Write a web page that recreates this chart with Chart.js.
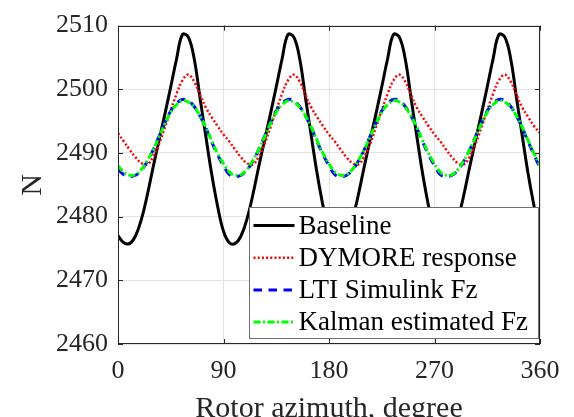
<!DOCTYPE html>
<html>
<head>
<meta charset="utf-8">
<script src="https://cdn.jsdelivr.net/npm/chart.js@4.4.0/dist/chart.umd.min.js"></script>
<style>
html, body { margin: 0; padding: 0; background: #fff; }
</style>
</head>
<body>
<canvas id="forceChart" width="574" height="417"></canvas>
<script>
// Rotor azimuth samples, degree
const azimuth = [
    0, 5, 10, 15, 20, 25, 30, 35, 40, 45, 50, 55, 60, 65, 70, 75, 80, 85,
    90, 95, 100, 105, 110, 115, 120, 125, 130, 135, 140, 145, 150, 155, 160, 165, 170, 175,
    180, 185, 190, 195, 200, 205, 210, 215, 220, 225, 230, 235, 240, 245, 250, 255, 260, 265,
    270, 275, 280, 285, 290, 295, 300, 305, 310, 315, 320, 325, 330, 335, 340, 345, 350, 355,
    360
];

const baseline = [
    2477.0, 2475.9, 2475.8, 2477.0, 2479.6, 2483.4, 2487.8, 2492.0, 2496.1, 2500.4, 2504.8, 2508.6, 2508.2, 2504.8, 2498.6, 2492.5, 2486.6, 2481.6,
    2477.7, 2475.9, 2475.8, 2477.0, 2479.6, 2483.4, 2487.8, 2492.0, 2496.1, 2500.4, 2504.8, 2508.6, 2508.2, 2504.8, 2498.6, 2492.5, 2486.6, 2481.6,
    2477.7, 2475.9, 2475.8, 2477.0, 2479.6, 2483.4, 2487.8, 2492.0, 2496.1, 2500.4, 2504.8, 2508.6, 2508.2, 2504.8, 2498.6, 2492.5, 2486.6, 2481.6,
    2477.7, 2475.9, 2475.8, 2477.0, 2479.6, 2483.4, 2487.8, 2492.0, 2496.1, 2500.4, 2504.8, 2508.6, 2508.2, 2504.8, 2498.6, 2492.5, 2486.6, 2481.6,
    2477.6
];

const dymore = [
    2493.1, 2491.8, 2490.5, 2489.3, 2488.4, 2488.2, 2489.4, 2491.4, 2494.0, 2496.7, 2499.3, 2501.4, 2502.3, 2501.2, 2499.1, 2497.1, 2495.6, 2494.2,
    2492.9, 2491.8, 2490.5, 2489.3, 2488.4, 2488.2, 2489.4, 2491.4, 2494.0, 2496.7, 2499.3, 2501.4, 2502.3, 2501.2, 2499.1, 2497.1, 2495.6, 2494.2,
    2492.9, 2491.8, 2490.5, 2489.3, 2488.4, 2488.2, 2489.4, 2491.4, 2494.0, 2496.7, 2499.3, 2501.4, 2502.3, 2501.2, 2499.1, 2497.1, 2495.6, 2494.2,
    2492.9, 2491.8, 2490.5, 2489.3, 2488.4, 2488.2, 2489.4, 2491.4, 2494.0, 2496.7, 2499.3, 2501.4, 2502.3, 2501.2, 2499.1, 2497.1, 2495.6, 2494.2,
    2493.1
];

const ltiFz = [
    2487.4, 2486.6, 2486.3, 2486.5, 2487.3, 2488.7, 2490.5, 2492.6, 2494.7, 2496.6, 2497.8, 2498.4, 2498.2, 2497.3, 2495.8, 2493.9, 2491.7, 2489.7,
    2488.0, 2486.6, 2486.3, 2486.5, 2487.3, 2488.7, 2490.5, 2492.6, 2494.7, 2496.6, 2497.8, 2498.4, 2498.2, 2497.3, 2495.8, 2493.9, 2491.7, 2489.7,
    2488.0, 2486.6, 2486.3, 2486.5, 2487.3, 2488.7, 2490.5, 2492.6, 2494.7, 2496.6, 2497.8, 2498.4, 2498.2, 2497.3, 2495.8, 2493.9, 2491.7, 2489.7,
    2488.0, 2486.6, 2486.3, 2486.5, 2487.3, 2488.7, 2490.5, 2492.6, 2494.7, 2496.6, 2497.8, 2498.4, 2498.2, 2497.3, 2495.8, 2493.9, 2491.7, 2489.7,
    2487.6
];

const kalmanFz = [
    2488.0, 2487.0, 2486.5, 2486.6, 2487.4, 2488.8, 2490.5, 2492.5, 2494.6, 2496.4, 2497.6, 2498.2, 2498.0, 2497.2, 2495.8, 2494.0, 2491.9, 2489.9,
    2488.3, 2487.0, 2486.5, 2486.6, 2487.4, 2488.8, 2490.5, 2492.5, 2494.6, 2496.4, 2497.6, 2498.2, 2498.0, 2497.2, 2495.8, 2494.0, 2491.9, 2489.9,
    2488.3, 2487.0, 2486.5, 2486.6, 2487.4, 2488.8, 2490.5, 2492.5, 2494.6, 2496.4, 2497.6, 2498.2, 2498.0, 2497.2, 2495.8, 2494.0, 2491.9, 2489.9,
    2488.3, 2487.0, 2486.5, 2486.6, 2487.4, 2488.8, 2490.5, 2492.5, 2494.6, 2496.4, 2497.6, 2498.2, 2498.0, 2497.2, 2495.8, 2494.0, 2491.9, 2489.9,
    2488.0
];

const seriesNames = ['Baseline', 'DYMORE response', 'LTI Simulink Fz', 'Kalman estimated Fz'];
const xTicks = [0, 90, 180, 270, 360];
const yTicks = [2460, 2470, 2480, 2490, 2500, 2510];

const axisColor = '#262626';
const fontFamily = '"Liberation Serif", "Times New Roman", serif';

function toPoints(values) {
    return values.map((v, i) => ({ x: azimuth[i], y: v }));
}

// Box around the axes and MATLAB style inward ticks
const framePlugin = {
    id: 'frame',
    afterDatasetsDraw(chart) {
        const ctx = chart.ctx;
        const area = chart.chartArea;
        const xs = chart.scales.x;
        const ys = chart.scales.y;
        const len = 5;
        ctx.save();
        ctx.strokeStyle = axisColor;
        ctx.lineWidth = 1;
        ctx.beginPath();
        xTicks.forEach(t => {
            const px = Math.round(xs.getPixelForValue(t)) + 0.5;
            ctx.moveTo(px, area.bottom);
            ctx.lineTo(px, area.bottom - len);
            ctx.moveTo(px, area.top);
            ctx.lineTo(px, area.top + len);
        });
        yTicks.forEach(t => {
            const py = Math.round(ys.getPixelForValue(t)) + 0.5;
            ctx.moveTo(area.left, py);
            ctx.lineTo(area.left + len, py);
            ctx.moveTo(area.right, py);
            ctx.lineTo(area.right - len, py);
        });
        ctx.stroke();
        ctx.strokeRect(Math.round(area.left) + 0.5, Math.round(area.top) + 0.5,
            Math.round(area.width) - 1, Math.round(area.height) - 1);
        ctx.restore();
    }
};

// Legend box drawn inside the plot area, lower right
const boxLegend = {
    id: 'boxLegend',
    afterDraw(chart) {
        const ctx = chart.ctx;
        const area = chart.chartArea;
        const boxW = 289, boxH = 131;
        const x0 = Math.round(area.right - 291) + 0.5;
        const y0 = Math.round(area.bottom - 137) + 0.5;
        ctx.save();
        ctx.fillStyle = '#ffffff';
        ctx.fillRect(x0, y0, boxW, boxH);
        ctx.strokeStyle = '#6e6e6e';
        ctx.lineWidth = 1;
        ctx.strokeRect(x0, y0, boxW, boxH);

        ctx.font = '27px ' + fontFamily;
        ctx.textBaseline = 'middle';
        chart.data.datasets.forEach((ds, i) => {
            const yRow = y0 + 18 + i * 32.2;
            ctx.save();
            ctx.strokeStyle = ds.borderColor;
            ctx.lineWidth = ds.borderWidth;
            ctx.setLineDash(ds.borderDash || []);
            ctx.beginPath();
            ctx.moveTo(x0 + 4, yRow);
            ctx.lineTo(x0 + 45, yRow);
            ctx.stroke();
            ctx.restore();
            ctx.fillStyle = '#000000';
            ctx.fillText(seriesNames[i], x0 + 49, yRow + 1);
        });
        ctx.restore();
    }
};

const ctx = document.getElementById('forceChart').getContext('2d');

new Chart(ctx, {
    type: 'line',
    data: {
        datasets: [{
            label: seriesNames[0],
            data: toPoints(baseline),
            borderColor: '#000000',
            borderWidth: 3,
            borderDash: [],
            order: 3
        }, {
            label: seriesNames[1],
            data: toPoints(dymore),
            borderColor: '#ff0000',
            borderWidth: 2.5,
            borderDash: [2, 2.2],
            order: 2
        }, {
            label: seriesNames[2],
            data: toPoints(ltiFz),
            borderColor: '#0000ff',
            borderWidth: 3,
            borderDash: [8.5, 6.5],
            order: 1
        }, {
            label: seriesNames[3],
            data: toPoints(kalmanFz),
            borderColor: '#00ff00',
            borderWidth: 3,
            borderDash: [7, 2.5, 2, 2.5],
            order: 0
        }]
    },
    options: {
        responsive: false,
        animation: false,
        devicePixelRatio: 1,
        layout: {
            padding: { top: 19, right: 34, left: 0, bottom: 0 }
        },
        elements: {
            point: { radius: 0 },
            line: { tension: 0.4, fill: false, borderCapStyle: 'butt' }
        },
        scales: {
            x: {
                type: 'linear',
                min: 0,
                max: 360,
                afterBuildTicks: scale => { scale.ticks = xTicks.map(v => ({ value: v })); },
                afterFit: scale => { scale.height = 73; },
                grid: { color: '#e3e3e3', drawTicks: false },
                border: { display: false },
                ticks: {
                    padding: 12,
                    maxRotation: 0,
                    color: axisColor,
                    font: { family: fontFamily, size: 26 },
                    callback: value => String(value)
                },
                title: {
                    display: true,
                    text: 'Rotor azimuth, degree',
                    color: axisColor,
                    padding: 0,
                    font: { family: fontFamily, size: 30, lineHeight: 0.55 }
                }
            },
            y: {
                min: 2460,
                max: 2510,
                afterBuildTicks: scale => { scale.ticks = yTicks.map(v => ({ value: v })); },
                afterFit: scale => { scale.width = 118; },
                grid: { color: '#e3e3e3', drawTicks: false },
                border: { display: false },
                ticks: {
                    padding: 10,
                    color: axisColor,
                    font: { family: fontFamily, size: 26 },
                    callback: value => String(value)
                },
                title: {
                    display: true,
                    text: 'N',
                    color: axisColor,
                    padding: { top: 15, bottom: 0 },
                    font: { family: fontFamily, size: 30 }
                }
            }
        },
        plugins: {
            legend: { display: false },
            tooltip: { enabled: false }
        }
    },
    plugins: [framePlugin, boxLegend]
});
</script>
</body>
</html>
